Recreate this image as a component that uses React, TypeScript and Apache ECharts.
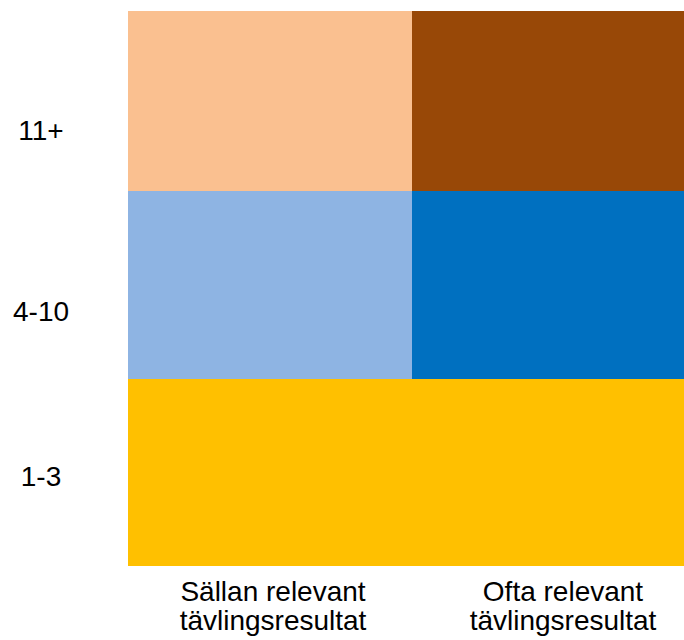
import React, { useEffect, useRef } from "react";
import * as echarts from "echarts";

const categories = ["Sällan relevant\ntävlingsresultat", "Ofta relevant\ntävlingsresultat"];
const rowLabels = ["1-3", "4-10", "11+"];
const rowLabelValues = [90, 255, 436];
const bottomValues = [187, 187];
const middleValues = [188, 188];
const topValues = [180, 180];
const bottomColors = ["#FFC000", "#FFC000"];
const middleColors = ["#8EB4E3", "#0070C0"];
const topColors = ["#FAC090", "#984807"];

export default function App() {
  const ref = useRef<HTMLDivElement>(null);
  useEffect(() => {
    if (!ref.current) return;
    const chart = echarts.init(ref.current, null, { renderer: "svg" });
    const mk = (name: string, vals: number[], cols: string[]) => ({
      name,
      type: "bar",
      stack: "all",
      barWidth: "100%",
      silent: true,
      data: vals.map((v, i) => ({ value: v, itemStyle: { color: cols[i] } })),
    });
    const font = "Liberation Sans, Arial, sans-serif";
    chart.setOption({
      animation: false,
      textStyle: { fontFamily: font },
      grid: { left: 128, top: 11, right: 0, bottom: 74 },
      xAxis: {
        type: "category",
        data: categories,
        axisLine: { show: false },
        axisTick: { show: false },
        axisLabel: {
          interval: 0,
          hideOverlap: false,
          color: "#000",
          fontSize: 28,
          lineHeight: 29,
          margin: 11,
          fontFamily: font,
          formatter: (v: string, i: number) => `{c${i}|${v}}`,
          rich: {
            c0: { fontSize: 28, lineHeight: 29, color: "#000", fontFamily: font, padding: [0, 0, 0, 6] },
            c1: { fontSize: 28, lineHeight: 29, color: "#000", fontFamily: font, padding: [0, 0, 0, 18] },
          },
        },
      },
      yAxis: {
        type: "value",
        min: 0,
        max: 555,
        splitLine: { show: false },
        axisLine: { show: false },
        axisTick: { show: false },
        axisLabel: {
          customValues: rowLabelValues,
          align: "center",
          margin: 87,
          color: "#000",
          fontSize: 28,
          fontFamily: font,
          formatter: (v: number) => {
            const i = rowLabelValues.indexOf(v);
            return i >= 0 ? rowLabels[i] : "";
          },
        },
      },
      series: [
        mk("1-3", bottomValues, bottomColors),
        mk("4-10", middleValues, middleColors),
        mk("11+", topValues, topColors),
      ],
    });
    return () => chart.dispose();
  }, []);
  return (
    <div
      style={{ position: "fixed", left: 0, top: 0, width: 684, height: 640, overflow: "hidden", background: "#fff" }}
    >
      <div ref={ref} style={{ width: 696, height: 640 }} />
    </div>
  );
}
